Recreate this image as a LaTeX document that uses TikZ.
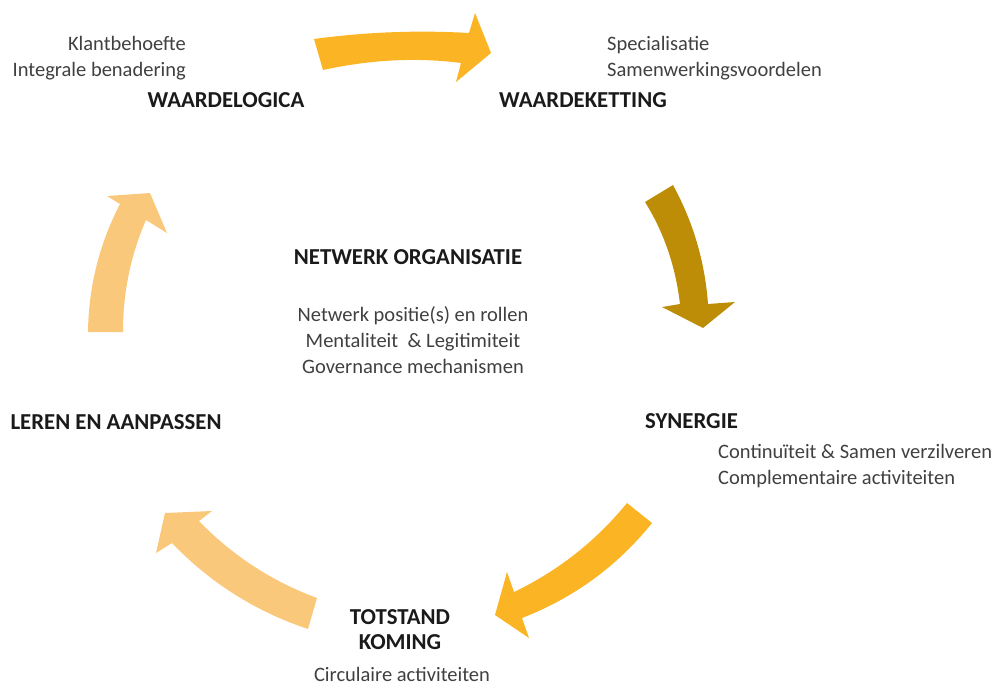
\documentclass[tikz,border=0pt]{standalone}
\usepackage{fontspec}
\setmainfont{Carlito}
\definecolor{arrowgold}  {RGB}{251,180,35}
\definecolor{arrowdark}  {RGB}{190,141,8}
\definecolor{arrowlight} {RGB}{250,200,122}
\definecolor{textgray}   {RGB}{64,64,64}
\definecolor{headblack}  {RGB}{26,26,26}

\begin{document}
\begin{tikzpicture}[
  x=1pt, y=-1pt,
  every node/.style={inner sep=0pt},
  headtxt/.style={font=\fontsize{22.8}{25}\selectfont\bfseries, text=headblack, align=center},
  bodytxt/.style={font=\fontsize{20.5}{26}\selectfont, text=textgray},
  arrowshape/.style={draw=none},
]
\useasboundingbox (0,0) rectangle (992,686);

% Top arrow
\fill[arrowshape, arrowgold] (314,39) .. controls (366,32) and (417,30) .. (469,33)
  -- (475,13) -- (491,53) -- (456,82) -- (461,63)
  .. controls (415,57) and (369,60) .. (323,70) -- cycle;

% Right arrow
\fill[arrowshape, arrowdark] (645,202) .. controls (664.6,233.4) and (675.6,267.4) .. (680,304)
  -- (662,307) -- (703,328) -- (735,302) -- (708,304)
  .. controls (704.9,261.8) and (693.3,222.2) .. (673,185) -- cycle;

% Bottom right arrow
\fill[arrowshape, arrowgold] (627,503) .. controls (595.9,541.1) and (558.3,570.7) .. (514,592)
  -- (507,572) -- (495,615) -- (529,638) -- (522,618)
  .. controls (573.8,597.9) and (617.2,566.3) .. (652,523) -- cycle;

% Bottom left arrow
\fill[arrowshape, arrowlight] (317,598) .. controls (271.9,581.3) and (232.5,555.7) .. (199,521)
  -- (212,511) -- (165,513) -- (156,553) -- (172,543)
  .. controls (210.2,582.9) and (255.6,611.5) .. (308,629) -- cycle;

% Left arrow
\fill[arrowshape, arrowlight] (88,332) .. controls (88.6,286.8) and (99.2,244.2) .. (120,204)
  -- (107,196) -- (150,193) -- (167,233) -- (146,220)
  .. controls (130.5,255.7) and (122.9,293.1) .. (123,332) -- cycle;

% Waardelogica
\node[bodytxt, align=right, anchor=north east] (klant) at (186,36)
  {Klantbehoefte\\Integrale benadering};
\node[headtxt] (waardelogica) at (226,100) {WAARDELOGICA};

% Waardeketting
\node[bodytxt, align=left, anchor=north west] (special) at (607,36)
  {Specialisatie\\Samenwerkingsvoordelen};
\node[headtxt] (waardeketting) at (583,100) {WAARDEKETTING};

% Centre
\node[headtxt] (netwerk) at (408,257) {NETWERK ORGANISATIE};
\node[bodytxt, align=center, anchor=north] (rollen) at (413,306)
  {Netwerk positie(s) en rollen\\Mentaliteit~ \& Legitimiteit\\Governance mechanismen};

% Synergie
\node[headtxt, anchor=west] (synergie) at (645,421) {SYNERGIE};
\node[bodytxt, align=left, anchor=north west] (continu) at (718,444)
  {Continuïteit \& Samen verzilveren\\Complementaire activiteiten};

% Totstand koming
\node[headtxt, anchor=north] (totstand) at (400,609) {TOTSTAND\\KOMING};
\node[bodytxt, anchor=base] (circulair) at (402,681) {Circulaire activiteiten};

% Leren en aanpassen
\node[headtxt] (leren) at (116,422) {LEREN EN AANPASSEN};
\end{tikzpicture}
\end{document}
